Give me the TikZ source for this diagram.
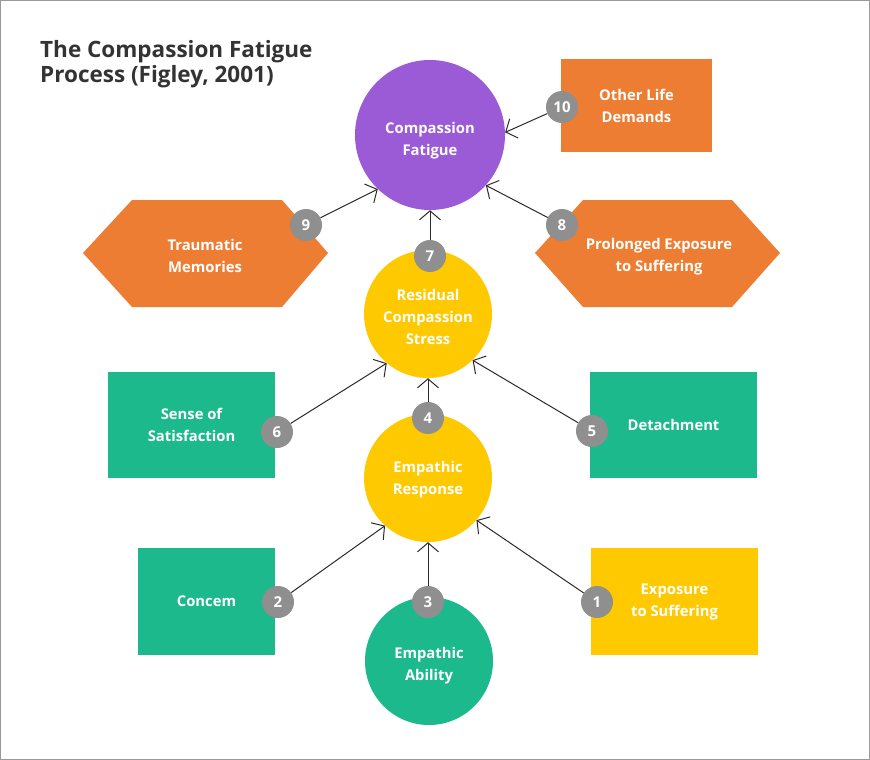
\documentclass[tikz,border=0pt]{standalone}
\usepackage{fontspec}
\setmainfont{Open Sans}
\usetikzlibrary{arrows.meta}
\definecolor{cpurple}{HTML}{9B5BD6}
\definecolor{corange}{HTML}{EE7D34}
\definecolor{cgreen}{HTML}{1BB98C}
\definecolor{cyellow}{HTML}{FFC900}
\definecolor{cbadge}{HTML}{8F8F8F}
\definecolor{ctitle}{HTML}{333333}
\definecolor{cline}{HTML}{2B2B2B}
\definecolor{cborder}{HTML}{9A9A9A}
\begin{document}
\begin{tikzpicture}[x=1pt,y=-1pt,
  lbl/.style={text=white,font=\fontsize{14.8}{22}\selectfont\bfseries,align=center,inner sep=0pt},
  bigcirc/.style={circle,inner sep=0pt,minimum size=#1},
  rectbox/.style={rectangle,inner sep=0pt,text=white,font=\fontsize{14.8}{22}\selectfont\bfseries,align=center},
  hexfill/.style={fill=corange},
  badge/.style={circle,fill=cbadge,minimum size=32pt,inner sep=0pt,text=white,font=\fontsize{15}{16}\selectfont\bfseries},
  arr/.style={draw=cline,line width=1pt,-{Straight Barb[length=9pt,width=21pt]}}
]
\useasboundingbox (0,0) rectangle (870,760);
\fill[white] (0,0) rectangle (870,760);
\draw[cborder,line width=1pt] (0.5,0.5) rectangle (869.5,759.5);

% title
\node[anchor=north west,inner sep=0pt,align=left,text=ctitle,font=\fontsize{22.5}{25.5}\selectfont\bfseries] (title) at (40,40) {The Compassion Fatigue\\Process (Figley, 2001)};

% circles
\node[bigcirc=150pt,fill=cpurple] (cf) at (430,135) {};
\node[lbl] (cft) at (430,141) {Compassion\\Fatigue};
\node[bigcirc=128pt,fill=cyellow] (res) at (428,314) {};
\node[lbl] (rest) at (428,317) {Residual\\Compassion\\Stress};
\node[bigcirc=128pt,fill=cyellow] (er) at (428,478) {};
\node[lbl] (ert) at (428,480) {Empathic\\Response};
\node[bigcirc=128pt,fill=cgreen] (ea) at (429,661) {};
\node[lbl] (eat) at (429,666) {Empathic\\Ability};

% rectangles
\node[rectbox,fill=corange,minimum width=151pt,minimum height=93pt] (old) at (636.5,105.5) {Other Life\\Demands};
\node[rectbox,fill=cgreen,minimum width=167pt,minimum height=106pt] (sos) at (191.5,425) {Sense of\\Satisfaction};
\node[rectbox,fill=cgreen,minimum width=167pt,minimum height=106pt] (det) at (673.5,425) {Detachment};
\node[rectbox,fill=cgreen,minimum width=137pt,minimum height=107pt] (con) at (206.5,601.5) {Concem};
\node[rectbox,fill=cyellow,minimum width=167pt,minimum height=107pt] (ets) at (674.5,601.5) {Exposure\\to Suffering};

% hexagons
\fill[hexfill] (83,253) -- (132,200) -- (282,200) -- (328,253) -- (282,307) -- (132,307) -- cycle;
\node[lbl] (tm) at (205,256) {Traumatic\\Memories};
\fill[hexfill] (535,253) -- (583,200) -- (732,200) -- (780,253) -- (732,307) -- (583,307) -- cycle;
\node[lbl] (pes) at (659,257) {Prolonged Exposure\\to Suffering};

% badges
\node[badge] (b1) at (597,602) {1};
\node[badge] (b2) at (278,602) {2};
\node[badge] (b3) at (428,602) {3};
\node[badge] (b4) at (428,418) {4};
\node[badge] (b5) at (592,431) {5};
\node[badge] (b6) at (277,432) {6};
\node[badge] (b7) at (430,256) {7};
\node[badge] (b8) at (562,225) {8};
\node[badge] (b9) at (306,225) {9};
\node[badge] (b10) at (562,107) {10};

% connectors
\draw[arr] (b10) -- (cf.2);
\draw[arr] (b9) -- (cf.-134);
\draw[arr] (b8) -- (cf.-42);
\draw[arr] (b7) -- (cf.south);
\draw[arr] (b6) -- (res.-130);
\draw[arr] (b5) -- (res.-46);
\draw[arr] (b4) -- (res.south);
\draw[arr] (b2) -- (er.-132);
\draw[arr] (b1) -- (er.-41);
\draw[arr] (b3) -- (er.south);
\end{tikzpicture}
\end{document}
